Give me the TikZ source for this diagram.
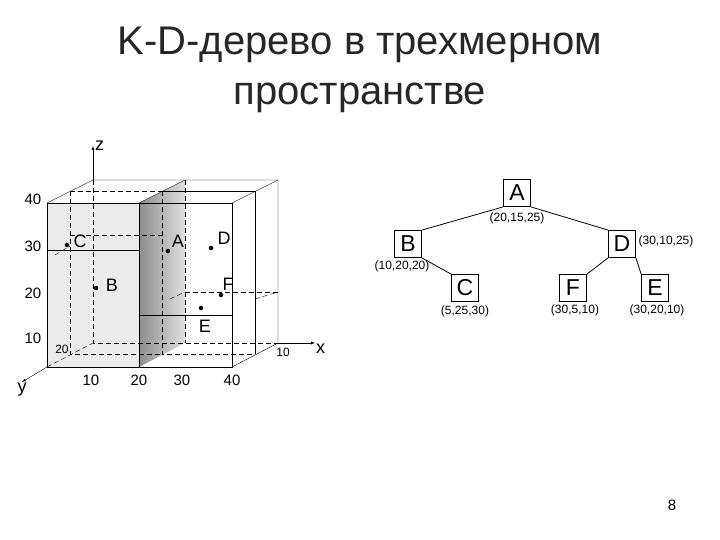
\documentclass[tikz,border=0pt]{standalone}
\usepackage{fontspec}
\setmainfont{Liberation Sans}
\begin{document}
\begin{tikzpicture}[x=1pt,y=-1pt,
  lbl/.style={font=\fontsize{18}{18}\selectfont},
  sm/.style={font=\fontsize{12}{12}\selectfont},
  tk/.style={font=\fontsize{15}{15}\selectfont},
  tbox/.style={draw,thick,minimum size=27pt,inner sep=0,font=\fontsize{23}{23}\selectfont},
  dsh/.style={dashed,dash pattern=on 5pt off 3pt},
  dot/.style={circle,fill,inner sep=1.6pt}]
\useasboundingbox (0,0) rectangle (720,540);
\node[font=\fontsize{40}{50}\selectfont,align=center,text=black!85] (title) at (360,70) {K-D-дерево в трехмерном\\пространстве};
% shading
\fill[black!8] (47,203) rectangle (139,367);
\shade[left color=black!45,right color=black!12] (139,203) -- (185,180) -- (185,343) -- (139,367) -- cycle;
% box solid edges
\draw (47,203) rectangle (232,367);
\draw (47,203) -- (93,180) -- (278,180) -- (278,343) -- (232,367);
\draw (232,203) -- (278,180);
\draw (139,203) -- (185,180);
\draw (139,203) -- (139,367);
\draw (47,250) -- (139,250);
\draw (139,315) -- (232,315);
\draw (162,191) -- (255,191) -- (255,354);
% hidden edges
\draw[dsh] (93,180) -- (93,343) -- (278,343);
\draw[dsh] (47,367) -- (93,343);
\draw[dsh] (185,180) -- (185,343);
\draw[dsh] (162,191) -- (162,354) -- (255,354);
\draw[dsh] (70,191) -- (70,354) -- (162,354);
\draw[dsh] (70,191) -- (162,191);
\draw[dsh] (70,235) -- (162,235);
\draw[dsh] (55,255) -- (70,246);
\draw[dsh] (185,292) -- (278,292);
\draw[dsh] (170,299) -- (185,292);
\draw[dsh] (255,299) -- (278,292);
% axes
\draw[-latex] (93,180) -- (93,146) node[right,lbl,inner sep=2pt,anchor=west] (zl) {z};
\draw[-latex] (278,343) -- (315,343) node[below right,lbl,inner sep=1pt] (xl) {x};
\draw[-latex] (47,367) -- (22,382) node[below,lbl,inner sep=1pt] (yl) {y};
% tick labels
\node[tk] (t40) at (33,199) {40};
\node[tk] (t30) at (33,246) {30};
\node[tk] (t20) at (33,293) {20};
\node[tk] (t10) at (33,338) {10};
\node[sm] (ty20) at (62,349) {20};
\node[sm] (ty10) at (283,352) {10};
\node[tk] (x10) at (91,380) {10};
\node[tk] (x20) at (139,380) {20};
\node[tk] (x30) at (182,380) {30};
\node[tk] (x40) at (232,380) {40};
% points
\node[dot] (C) at (67,245) {}; \node[lbl] (Cl) at (80,241) {C};
\node[dot] (A) at (168,251) {}; \node[lbl] (Al) at (178,241) {A};
\node[dot] (D) at (211,248) {}; \node[lbl] (Dl) at (224,238) {D};
\node[dot] (B) at (96,288) {}; \node[lbl] (Bl) at (112,285) {B};
\node[dot] (F) at (221,295) {}; \node[lbl] (Fl) at (228,284) {F};
\node[dot] (E) at (201,308) {}; \node[lbl] (El) at (205,326) {E};
% tree
\node[tbox] (tA) at (517,193) {A};
\node[tbox] (tB) at (408,244) {B};
\node[tbox] (tD) at (622,244) {D};
\node[tbox] (tC) at (465,288) {C};
\node[tbox] (tF) at (573,288) {F};
\node[tbox] (tE) at (655,288) {E};
\draw[thick] (tA.south west) -- (tB.north east);
\draw[thick] (tA.south east) -- (tD.north west);
\draw[thick] (tB.south east) -- (tC.north west);
\draw[thick] (tD.south west) -- (tF.north east);
\draw[thick] (tD.south east) -- (tE.north west);
\node[sm] (lA) at (517,218) {(20,15,25)};
\node[sm] (lD) at (666,241) {(30,10,25)};
\node[sm] (lB) at (402,266) {(10,20,20)};
\node[sm] (lC) at (465,311) {(5,25,30)};
\node[sm] (lF) at (575,310) {(30,5,10)};
\node[sm] (lE) at (657,310) {(30,20,10)};
\node[font=\fontsize{15}{15}\selectfont] (pg) at (672,505) {8};
\end{tikzpicture}
\end{document}
